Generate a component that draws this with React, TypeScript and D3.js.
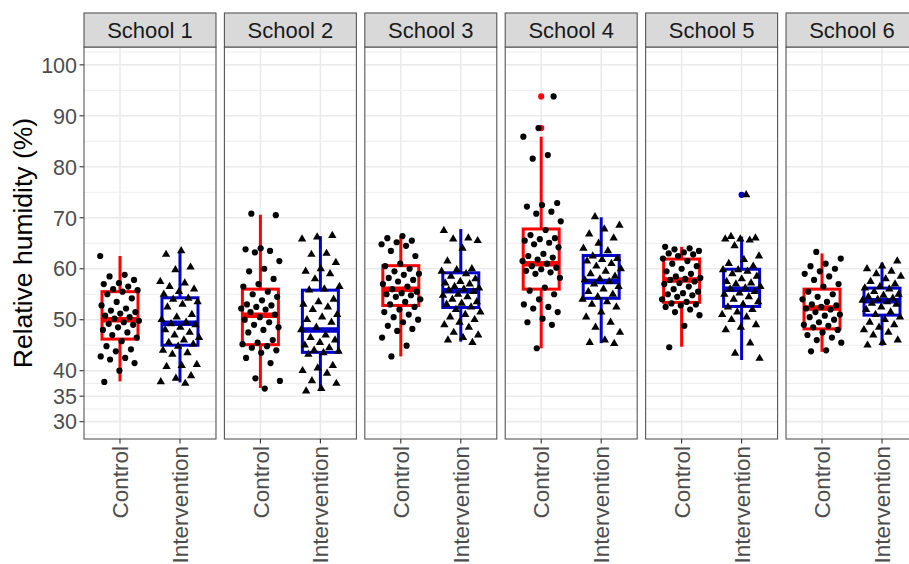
import * as d3 from "d3";

const schools = ["School 1", "School 2", "School 3", "School 4", "School 5", "School 6"];
const groups = ["Control", "Intervention"];
const yTicks = [30, 35, 40, 50, 60, 70, 80, 90, 100];
const yMinor = [27.5, 32.5, 37.5, 45, 55, 65, 75, 85, 95, 102.5];

// box stats: [lower whisker, q1, median, q3, upper whisker]
const controlBoxes = [
  [37.9, 46.2, 50.0, 55.5, 62.5],
  [36.6, 45.1, 50.9, 56.0, 70.6],
  [42.8, 52.8, 56.0, 60.6, 66.4],
  [44.4, 56.0, 61.0, 67.8, 85.9],
  [44.7, 53.4, 57.8, 61.9, 64.3],
  [43.7, 48.2, 52.3, 56.0, 63.0],
];
const interventionBoxes = [
  [37.7, 45.0, 49.3, 54.3, 63.4],
  [36.0, 43.6, 48.0, 55.8, 66.4],
  [45.7, 52.4, 55.7, 59.2, 67.8],
  [45.4, 54.2, 57.5, 62.6, 70.1],
  [42.1, 52.6, 56.0, 59.9, 66.3],
  [44.9, 50.9, 53.7, 56.2, 61.2],
];
const controlOutliers = [[], [], [], [93.8, 87.6], [], []];
const interventionOutliers = [[], [], [], [], [74.5], []];

const s1Control = [62.5, 58.8, 58.5, 57.8, 57.2, 57.0, 56.5, 56.0, 55.8, 55.5, 55.0, 54.2, 53.5, 52.8, 52.2, 51.8, 51.5, 51.2, 50.8, 50.5, 50.2, 49.8, 49.5, 49.2, 49.0, 48.5, 48.0, 47.5, 47.0, 46.5, 45.8, 44.8, 44.2, 43.8, 42.8, 42.5, 42.2, 41.5, 40.0, 37.8];
const s1Intervention = [63.5, 62.8, 60.3, 59.8, 57.5, 57.2, 56.5, 56.0, 55.5, 55.0, 54.2, 54.0, 53.5, 53.0, 52.5, 51.0, 50.5, 50.0, 49.5, 49.2, 49.0, 48.5, 48.0, 47.5, 47.0, 46.5, 46.0, 45.5, 45.2, 44.8, 44.0, 43.5, 43.2, 41.2, 41.0, 40.8, 39.0, 38.5, 37.8, 37.5];
const s2Control = [70.8, 70.5, 64.0, 63.8, 63.5, 63.2, 61.5, 60.0, 59.5, 58.0, 57.0, 56.5, 55.5, 55.0, 54.5, 53.8, 53.0, 52.8, 52.5, 52.2, 52.0, 51.5, 51.0, 50.5, 50.0, 49.5, 49.0, 48.5, 48.0, 47.5, 46.0, 45.5, 45.2, 44.8, 44.5, 44.0, 43.5, 42.5, 41.5, 38.5, 38.0, 36.5];
const s2Intervention = [66.5, 66.2, 65.8, 63.0, 62.8, 61.2, 60.0, 59.5, 59.0, 58.0, 56.5, 56.0, 55.8, 54.0, 53.5, 53.0, 52.5, 52.0, 51.0, 50.5, 50.0, 49.5, 48.5, 48.0, 47.0, 46.5, 46.0, 45.5, 45.0, 44.5, 44.0, 43.8, 43.5, 43.2, 41.0, 40.5, 40.0, 39.5, 38.0, 37.5, 36.5, 36.0];
const s3Control = [66.4, 66.0, 65.5, 65.2, 64.8, 64.5, 63.5, 62.5, 61.0, 60.5, 60.0, 59.5, 59.0, 58.8, 58.2, 57.8, 57.5, 57.0, 56.5, 56.0, 55.5, 55.2, 55.0, 54.8, 54.5, 54.0, 53.5, 53.0, 52.5, 52.0, 51.5, 51.0, 50.5, 50.0, 49.5, 48.8, 48.2, 47.8, 46.5, 44.9, 42.8];
const s3Intervention = [67.5, 66.0, 65.8, 65.5, 64.0, 61.5, 60.0, 59.8, 59.5, 59.0, 58.5, 58.0, 57.5, 57.2, 57.0, 56.5, 56.2, 56.0, 55.8, 55.5, 55.0, 54.8, 54.5, 54.0, 53.5, 53.2, 53.0, 52.5, 52.0, 51.5, 51.0, 50.5, 50.0, 49.5, 49.0, 48.5, 47.5, 47.0, 46.5, 46.0, 45.5];
const s4Control = [93.8, 87.6, 85.9, 82.3, 81.6, 72.9, 72.5, 72.2, 71.2, 70.8, 69.3, 67.6, 66.6, 66.0, 65.8, 65.5, 65.1, 64.8, 64.2, 62.9, 62.5, 62.2, 61.8, 61.5, 61.0, 60.5, 60.2, 59.9, 59.6, 59.3, 59.0, 58.2, 56.3, 55.7, 55.0, 54.0, 53.0, 52.5, 52.2, 51.5, 50.2, 49.5, 49.0, 44.4];
const s4Intervention = [70.2, 68.5, 67.8, 66.8, 66.0, 65.0, 64.0, 63.5, 62.5, 62.0, 61.8, 61.5, 61.0, 60.5, 60.0, 59.5, 59.0, 58.5, 58.0, 57.8, 57.5, 57.0, 56.5, 56.0, 55.5, 55.0, 54.5, 54.0, 53.5, 53.0, 52.5, 51.5, 50.5, 49.5, 48.5, 47.5, 46.0, 45.5, 45.3];
const s5Control = [64.3, 64.0, 63.8, 63.5, 63.2, 63.0, 62.8, 62.5, 62.0, 61.5, 61.0, 60.5, 60.0, 59.5, 59.0, 58.5, 58.2, 58.0, 57.8, 57.5, 57.2, 57.0, 56.5, 56.0, 55.5, 55.2, 55.0, 54.8, 54.5, 54.0, 53.5, 53.2, 53.0, 52.8, 52.5, 52.0, 51.5, 50.9, 48.8, 44.6];
const s5Intervention = [74.5, 66.3, 66.0, 65.8, 65.8, 65.6, 64.5, 62.5, 61.8, 61.0, 60.5, 59.8, 59.8, 59.5, 59.0, 58.5, 58.0, 57.5, 57.2, 57.0, 56.5, 56.2, 56.0, 55.5, 55.2, 55.0, 54.5, 54.0, 53.5, 53.0, 52.5, 52.0, 51.5, 51.0, 50.5, 50.0, 49.0, 48.5, 48.0, 45.4, 43.4, 42.4];
const s6Control = [63.3, 62.0, 61.0, 60.5, 60.0, 59.5, 59.0, 58.5, 57.8, 57.0, 56.5, 55.5, 55.0, 54.5, 54.0, 53.5, 53.0, 52.8, 52.5, 52.2, 52.0, 51.5, 51.0, 50.8, 50.5, 50.0, 49.5, 49.0, 48.8, 48.5, 48.0, 47.5, 47.0, 46.5, 46.0, 45.5, 44.0, 43.8];
const s6Intervention = [61.5, 60.5, 60.0, 59.5, 59.0, 58.5, 58.0, 57.5, 57.0, 56.5, 56.2, 56.0, 55.5, 55.0, 54.8, 54.5, 54.2, 54.0, 53.8, 53.5, 53.2, 53.0, 52.5, 52.0, 51.5, 51.0, 50.5, 50.0, 49.5, 49.0, 48.5, 48.0, 47.5, 47.0, 46.0, 45.5, 45.0];

const controlPoints = [s1Control, s2Control, s3Control, s4Control, s5Control, s6Control];
const interventionPoints = [s1Intervention, s2Intervention, s3Intervention, s4Intervention, s5Intervention, s6Intervention];

const W = 909;
const H = 564;
const font = "'Liberation Sans', Arial, Helvetica, sans-serif";
const colors = ["#ff0000", "#0000cd"];
const panelTop = 47;
const panelBottom = 439;
const stripTop = 13;

const fx = d3.scaleBand().domain(schools).range([84, 918]).paddingInner(0.06).paddingOuter(0);
const pw = fx.bandwidth();
const x = d3.scalePoint().domain(groups).range([0, pw]).padding(0.6);
const y = d3.scaleLinear().domain([26.6, 103.5]).range([panelBottom, panelTop]);
const boxW = x.step() * 0.6;
const triangle = d3.symbol().type(d3.symbolTriangle).size(30)()!;

// deterministic jitter, spread like geom_jitter
const jitter = (i: number, s: number, g: number) =>
  (((i * 0.6180339887 + s * 0.271 + g * 0.53) % 1) - 0.5) * 2 * 0.33 * x.step();

export default function App() {
  return (
    <svg width={W} height={H} style={{ position: "absolute", left: 0, top: 0, background: "#fff" }} fontFamily={font}>
      <rect width={W} height={H} fill="#fff" />
      {/* y axis */}
      {yTicks.map((t) => (
        <g key={t}>
          <line x1={79.5} x2={84} y1={y(t)} y2={y(t)} stroke="#333" strokeWidth={1.1} />
          <text x={77} y={y(t)} dy="0.36em" textAnchor="end" fontSize={21.5} fill="#4d4d4d">
            {t}
          </text>
        </g>
      ))}
      <text
        transform={`translate(32,${(panelTop + panelBottom) / 2}) rotate(-90)`}
        textAnchor="middle"
        fontSize={26.5}
        fill="#000"
      >
        Relative humidity (%)
      </text>
      {schools.map((s, si) => {
        const px = fx(s)!;
        return (
          <g key={s} transform={`translate(${px},0)`}>
            <rect x={0} y={panelTop} width={pw} height={panelBottom - panelTop} fill="#fff" />
            {yMinor.map((t) => (
              <line key={t} x1={0} x2={pw} y1={y(t)} y2={y(t)} stroke="#ebebeb" strokeWidth={0.9} />
            ))}
            {yTicks.map((t) => (
              <line key={t} x1={0} x2={pw} y1={y(t)} y2={y(t)} stroke="#ebebeb" strokeWidth={1.6} />
            ))}
            {groups.map((g) => (
              <line key={g} x1={x(g)} x2={x(g)} y1={panelTop} y2={panelBottom} stroke="#ebebeb" strokeWidth={1.6} />
            ))}
            {groups.map((g, gi) => {
              const b = gi === 0 ? controlBoxes[si] : interventionBoxes[si];
              const outs = gi === 0 ? controlOutliers[si] : interventionOutliers[si];
              const cx = x(g)!;
              const c = colors[gi];
              return (
                <g key={g}>
                  <line x1={cx} x2={cx} y1={y(b[0])} y2={y(b[1])} stroke={c} strokeWidth={3} />
                  <line x1={cx} x2={cx} y1={y(b[3])} y2={y(b[4])} stroke={c} strokeWidth={3} />
                  <rect
                    x={cx - boxW / 2}
                    y={y(b[3])}
                    width={boxW}
                    height={y(b[1]) - y(b[3])}
                    fill="#fff"
                    stroke={c}
                    strokeWidth={3}
                  />
                  <line x1={cx - boxW / 2} x2={cx + boxW / 2} y1={y(b[2])} y2={y(b[2])} stroke={c} strokeWidth={5.5} />
                  {outs.map((o, oi) => (
                    <circle key={oi} cx={cx} cy={y(o)} r={3.1} fill={c} />
                  ))}
                </g>
              );
            })}
            {groups.map((g, gi) => {
              const pts = gi === 0 ? controlPoints[si] : interventionPoints[si];
              const cx = x(g)!;
              return (
                <g key={g}>
                  {pts.map((v, i) =>
                    gi === 0 ? (
                      <circle key={i} cx={cx + jitter(i, si, gi)} cy={y(v)} r={3.1} fill="#000" />
                    ) : (
                      <path key={i} d={triangle} transform={`translate(${cx + jitter(i, si, gi)},${y(v)})`} fill="#000" />
                    )
                  )}
                </g>
              );
            })}
            <rect x={0} y={panelTop} width={pw} height={panelBottom - panelTop} fill="none" stroke="#555" strokeWidth={1.1} />
            {/* strip */}
            <rect x={0} y={stripTop} width={pw} height={panelTop - stripTop} fill="#d9d9d9" stroke="#555" strokeWidth={1.1} />
            <text x={pw / 2} y={(stripTop + panelTop) / 2} dy="0.36em" textAnchor="middle" fontSize={22} fill="#1a1a1a">
              {s}
            </text>
            {/* x axis */}
            {groups.map((g) => (
              <g key={g}>
                <line x1={x(g)} x2={x(g)} y1={panelBottom} y2={panelBottom + 4.5} stroke="#333" strokeWidth={1.1} />
                <text
                  transform={`translate(${x(g)},${panelBottom + 7}) rotate(-90)`}
                  textAnchor="end"
                  dy="0.36em"
                  fontSize={22.5}
                  fill="#4d4d4d"
                >
                  {g}
                </text>
              </g>
            ))}
          </g>
        );
      })}
    </svg>
  );
}
